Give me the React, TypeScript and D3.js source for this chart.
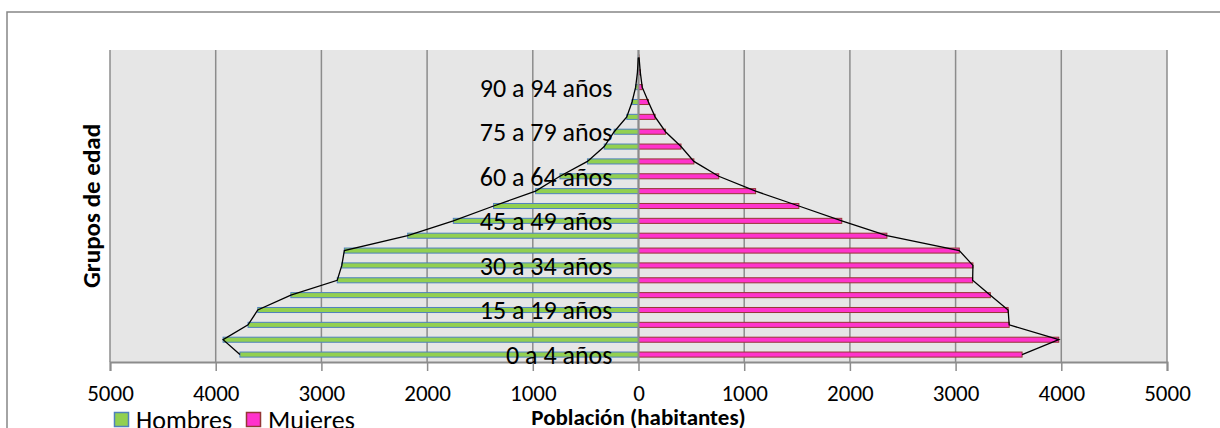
import { useEffect, useRef } from 'react';
import * as d3 from 'd3';

const grupos = [
  '0 a 4 años', '5 a 9 años', '10 a 14 años', '15 a 19 años', '20 a 24 años',
  '25 a 29 años', '30 a 34 años', '35 a 39 años', '40 a 44 años', '45 a 49 años',
  '50 a 54 años', '55 a 59 años', '60 a 64 años', '65 a 69 años', '70 a 74 años',
  '75 a 79 años', '80 a 84 años', '85 a 89 años', '90 a 94 años', '95 a 99 años',
  '100 años y más',
];
const hombres = [3771, 3930, 3694, 3602, 3289, 2850, 2807, 2783, 2184, 1752, 1371, 974, 743, 483, 324, 230, 111, 61, 27, 10, 2];
const mujeres = [3629, 3976, 3507, 3497, 3329, 3161, 3164, 3035, 2350, 1923, 1517, 1108, 759, 524, 402, 255, 157, 94, 35, 17, 5];
const ticksX = [-5000, -4000, -3000, -2000, -1000, 0, 1000, 2000, 3000, 4000, 5000];
const etiquetasVisibles = ['0 a 4 años', '15 a 19 años', '30 a 34 años', '45 a 49 años', '60 a 64 años', '75 a 79 años', '90 a 94 años'];

const FONT = 'Carlito, Calibri, Lato, sans-serif';

export default function App() {
  const svgRef = useRef<SVGSVGElement | null>(null);

  useEffect(() => {
    const width = 1220;
    const height = 428;
    const plot = { left: 110, right: 1167, top: 50, bottom: 362 };

    const svg = d3.select(svgRef.current);
    svg.selectAll('*').remove();
    svg.attr('width', width).attr('height', height);

    const x = d3.scaleLinear().domain([-5000, 5000]).range([plot.left, plot.right]);
    const y = d3.scaleBand<string>()
      .domain(grupos)
      .range([plot.bottom, plot.top])
      .paddingInner(0.66)
      .paddingOuter(0.33);
    const yc = (g: string) => y(g)! + y.bandwidth() / 2;

    // marco exterior del gráfico
    svg.append('rect')
      .attr('x', 7).attr('y', 12)
      .attr('width', 1230).attr('height', 440)
      .attr('fill', '#fff')
      .attr('stroke', '#868686')
      .attr('stroke-width', 1.5);

    // área de trazado
    svg.append('rect')
      .attr('x', plot.left).attr('y', plot.top)
      .attr('width', plot.right - plot.left).attr('height', plot.bottom - plot.top)
      .attr('fill', '#e6e6e6');

    // líneas de división
    svg.append('g')
      .selectAll('line')
      .data(ticksX)
      .enter()
      .append('line')
      .attr('x1', d => x(d)).attr('x2', d => x(d))
      .attr('y1', plot.top).attr('y2', plot.bottom)
      .attr('stroke', '#8c8c8c')
      .attr('stroke-width', 1.5);

    // eje horizontal
    const axis = svg.append('g')
      .attr('transform', `translate(0,${plot.bottom})`)
      .call(d3.axisBottom(x).tickValues(ticksX).tickSize(9).tickPadding(14).tickFormat(d => `${Math.abs(+d)}`));
    axis.select('.domain').attr('stroke', '#8c8c8c').attr('stroke-width', 2);
    axis.selectAll('.tick line').attr('stroke', '#8c8c8c').attr('stroke-width', 1.5);
    axis.selectAll('.tick text')
      .attr('fill', '#000')
      .style('font-family', FONT)
      .style('font-size', '23px');

    // barras
    const bars = svg.append('g');
    bars.selectAll('rect.h')
      .data(grupos)
      .enter()
      .append('rect')
      .attr('class', 'h')
      .attr('x', (_, i) => x(-hombres[i]))
      .attr('y', d => y(d)!)
      .attr('width', (_, i) => x(0) - x(-hombres[i]))
      .attr('height', y.bandwidth())
      .attr('fill', '#92d050')
      .attr('stroke', '#4f81bd')
      .attr('stroke-width', 1);
    bars.selectAll('rect.m')
      .data(grupos)
      .enter()
      .append('rect')
      .attr('class', 'm')
      .attr('x', x(0))
      .attr('y', d => y(d)!)
      .attr('width', (_, i) => x(mujeres[i]) - x(0))
      .attr('height', y.bandwidth())
      .attr('fill', '#ff33cc')
      .attr('stroke', '#953735')
      .attr('stroke-width', 1);

    // eje de categorías en 0
    svg.append('line')
      .attr('x1', x(0)).attr('x2', x(0))
      .attr('y1', plot.top).attr('y2', plot.bottom)
      .attr('stroke', '#8c8c8c')
      .attr('stroke-width', 2);

    // contorno de la pirámide
    const line = d3.line<[number, string]>()
      .x(d => x(d[0]))
      .y(d => yc(d[1]));
    svg.append('path')
      .datum(grupos.map((g, i) => [-hombres[i], g] as [number, string]))
      .attr('d', line)
      .attr('fill', 'none')
      .attr('stroke', '#000')
      .attr('stroke-width', 1.3);
    svg.append('path')
      .datum(grupos.map((g, i) => [mujeres[i], g] as [number, string]))
      .attr('d', line)
      .attr('fill', 'none')
      .attr('stroke', '#000')
      .attr('stroke-width', 1.3);

    // etiquetas de grupos de edad
    svg.append('g')
      .selectAll('text')
      .data(etiquetasVisibles)
      .enter()
      .append('text')
      .attr('x', x(0) - 26)
      .attr('y', d => yc(d))
      .attr('dy', '0.36em')
      .attr('text-anchor', 'end')
      .style('font-family', FONT)
      .style('font-size', '26px')
      .attr('fill', '#000')
      .text(d => d);

    // títulos de ejes
    svg.append('text')
      .attr('transform', `translate(91,206) rotate(-90)`)
      .attr('text-anchor', 'middle')
      .attr('dy', '0.35em')
      .style('font-family', FONT)
      .style('font-size', '25px')
      .style('font-weight', 'bold')
      .text('Grupos de edad');
    svg.append('text')
      .attr('x', x(0))
      .attr('y', 425)
      .attr('text-anchor', 'middle')
      .style('font-family', FONT)
      .style('font-size', '23px')
      .style('font-weight', 'bold')
      .text('Población (habitantes)');

    // leyenda
    const legend = [
      { name: 'Hombres', fill: '#92d050', stroke: '#4f81bd', x: 114 },
      { name: 'Mujeres', fill: '#ff33cc', stroke: '#953735', x: 246 },
    ];
    const lg = svg.append('g');
    lg.selectAll('rect')
      .data(legend)
      .enter()
      .append('rect')
      .attr('x', d => d.x + 0.5)
      .attr('y', 412.5)
      .attr('width', 14)
      .attr('height', 14)
      .attr('fill', d => d.fill)
      .attr('stroke', d => d.stroke)
      .attr('stroke-width', 1.5);
    lg.selectAll('text')
      .data(legend)
      .enter()
      .append('text')
      .attr('x', d => d.x + 22)
      .attr('y', 429)
      .style('font-family', FONT)
      .style('font-size', '26px')
      .text(d => d.name);
  }, []);

  return (
    <div style={{ position: 'absolute', left: 0, top: 0, width: 1220, height: 428, overflow: 'hidden' }}>
      <svg ref={svgRef} style={{ display: 'block' }} />
    </div>
  );
}
